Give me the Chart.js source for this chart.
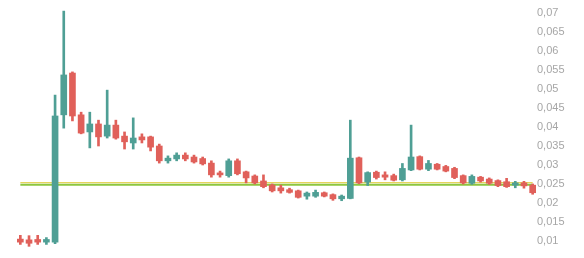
<!DOCTYPE html>
<html><head><meta charset="utf-8">
<script src="https://cdn.jsdelivr.net/npm/chart.js@4/dist/chart.umd.min.js"></script>
<style>html,body{margin:0;padding:0;background:#fff}#wrap{width:584px;height:258px}</style>
</head><body><div id="wrap"><canvas id="c" width="584" height="258"></canvas></div>
<script>
const categories = [1,2,3,4,5,6,7,8,9,10,11,12,13,14,15,16,17,18,19,20,21,22,23,24,25,26,27,28,29,30,
  31,32,33,34,35,36,37,38,39,40,41,42,43,44,45,46,47,48,49,50,51,52,53,54,55,56,57,58,59,60];
const opens = [0.0105,0.0103,0.0104,0.0097,0.0097,0.0432,0.0542,0.0432,0.0387,0.0408,
  0.0376,0.0405,0.0376,0.0358,0.0374,0.0374,0.0350,0.0311,0.0316,0.0326,
  0.0321,0.0317,0.0305,0.0279,0.0272,0.0311,0.0282,0.0271,0.0258,0.0247,
  0.0240,0.0235,0.0232,0.0218,0.0218,0.0227,0.0222,0.0211,0.0212,0.0319,
  0.0255,0.0281,0.0274,0.0272,0.0261,0.0287,0.0322,0.0289,0.0302,0.0296,
  0.0291,0.0272,0.0252,0.0268,0.0263,0.0259,0.0256,0.0247,0.0253,0.0247];
const highs = [0.0115,0.0114,0.0115,0.0109,0.0484,0.0705,0.0545,0.0439,0.0439,0.0418,
  0.0497,0.0418,0.0387,0.0424,0.0382,0.0376,0.0355,0.0324,0.0332,0.0332,
  0.0326,0.0321,0.0311,0.0284,0.0316,0.0316,0.0284,0.0274,0.0274,0.0250,
  0.0247,0.0239,0.0234,0.0229,0.0234,0.0229,0.0224,0.0221,0.0418,0.0321,
  0.0282,0.0284,0.0282,0.0276,0.0304,0.0405,0.0324,0.0312,0.0304,0.0299,
  0.0294,0.0274,0.0274,0.0270,0.0266,0.0261,0.0265,0.0257,0.0257,0.0250];
const lows = [0.0091,0.0086,0.0091,0.0091,0.0093,0.0397,0.0416,0.0382,0.0345,0.0350,
  0.0371,0.0368,0.0342,0.0342,0.0358,0.0337,0.0305,0.0305,0.0311,0.0311,
  0.0305,0.0300,0.0268,0.0268,0.0268,0.0274,0.0253,0.0250,0.0240,0.0229,
  0.0226,0.0226,0.0213,0.0210,0.0215,0.0216,0.0207,0.0206,0.0211,0.0251,
  0.0246,0.0263,0.0261,0.0258,0.0258,0.0285,0.0287,0.0285,0.0287,0.0282,
  0.0264,0.0250,0.0249,0.0255,0.0249,0.0243,0.0241,0.0240,0.0239,0.0223];
const closes = [0.0097,0.0094,0.0097,0.0104,0.0429,0.0537,0.0429,0.0384,0.0408,0.0374,
  0.0405,0.0371,0.0361,0.0371,0.0366,0.0347,0.0311,0.0318,0.0326,0.0316,
  0.0308,0.0303,0.0274,0.0274,0.0311,0.0277,0.0266,0.0253,0.0243,0.0232,
  0.0232,0.0228,0.0215,0.0226,0.0228,0.0218,0.0211,0.0218,0.0318,0.0253,
  0.0280,0.0267,0.0268,0.0260,0.0291,0.0321,0.0289,0.0304,0.0289,0.0284,
  0.0267,0.0253,0.0270,0.0258,0.0252,0.0246,0.0243,0.0253,0.0245,0.0227];
const levelYellow = 0.02535;
const levelGreen = 0.0248;
const tickValues = [0.01,0.015,0.02,0.025,0.03,0.035,0.04,0.045,0.05,0.055,0.06,0.065,0.07];
const tickLabels = ['0,01','0,015','0,02','0,025','0,03','0,035','0,04','0,045','0,05','0,055','0,06','0,065','0,07'];

const UP = '#4f9f95', DOWN = '#e0605a';
const colors = opens.map((o, i) => closes[i] >= o ? UP : DOWN);

new Chart(document.getElementById('c'), {
  data: {
    labels: categories,
    datasets: [
      { type: 'bar', data: opens.map((o, i) => [o, closes[i]]), backgroundColor: colors,
        barThickness: 6, grouped: false, minBarLength: 2, order: 0, borderWidth: 0 },
      { type: 'bar', data: lows.map((l, i) => [l, highs[i]]), backgroundColor: colors,
        barThickness: 2, grouped: false, order: 1, borderWidth: 0 },
      { type: 'line', data: categories.map(() => levelYellow), borderColor: '#e6d35c',
        borderWidth: 1.2, pointRadius: 0, order: 3, tension: 0 },
      { type: 'line', data: categories.map(() => levelGreen), borderColor: '#8cc63f',
        borderWidth: 2, pointRadius: 0, order: 2, tension: 0 }
    ]
  },
  options: {
    responsive: false, animation: false, devicePixelRatio: 1,
    layout: { padding: { left: 16, right: 0, top: 3, bottom: 6 } },
    plugins: { legend: { display: false }, tooltip: { enabled: false } },
    scales: {
      x: { type: 'category', display: false, offset: true },
      y: {
        position: 'right', min: 0.007105, max: 0.072632,
        grid: { display: false, drawTicks: false }, border: { display: false },
        afterBuildTicks: s => { s.ticks = tickValues.map(v => ({ value: v })); },
        afterFit: s => { s.width = 47; s.paddingTop = 0; s.paddingBottom = 0; },
        ticks: {
          padding: 0, color: '#a6a6a6',
          font: { family: 'Liberation Sans, Arial', size: 11 },
          callback: (v) => { const k = tickValues.findIndex(t => Math.abs(t - v) < 1e-9); return k >= 0 ? tickLabels[k] : ''; }
        }
      }
    }
  }
});
</script></body></html>
